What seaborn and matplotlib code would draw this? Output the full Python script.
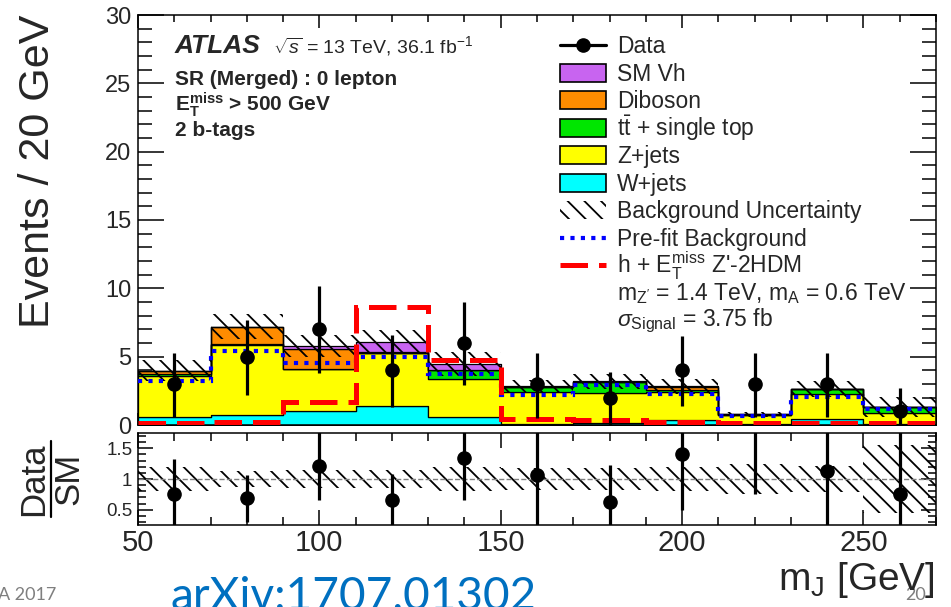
import numpy as np
import pandas as pd
import matplotlib
matplotlib.use("Agg")
import matplotlib.pyplot as plt
import seaborn as sns
from matplotlib.patches import Rectangle
from matplotlib.ticker import MultipleLocator

# ---- binning and yields (events per 20 GeV) ----
bin_edges = np.arange(50, 271, 20)
bin_centers = 0.5 * (bin_edges[:-1] + bin_edges[1:])

data_counts = np.array([3, 5, 7, 4, 6, 3, 2, 4, 3, 3, 1])
data_err_down = np.array([2.4, 2.8, 3.2, 2.7, 3.1, 2.5, 2.0, 2.6, 2.4, 2.4, 1.0])
data_err_up = np.array([2.3, 2.7, 3.2, 2.6, 3.0, 2.3, 1.9, 2.5, 2.3, 2.3, 1.7])

w_jets = np.array([0.62, 0.74, 1.00, 1.40, 0.60, 0.05, 0.12, 0.35, 0.08, 0.45, 0.08])
z_jets = np.array([2.96, 5.14, 3.07, 3.88, 2.79, 2.40, 2.22, 2.10, 0.62, 1.82, 0.82])
ttbar = np.array([0.15, 0.05, 0.05, 0.02, 0.60, 0.32, 0.80, 0.14, 0.05, 0.34, 0.39])
diboson = np.array([0.22, 1.22, 1.44, 0.05, 0.03, 0.03, 0.03, 0.22, 0.02, 0.03, 0.02])
sm_vh = np.array([0.03, 0.05, 0.22, 0.72, 0.43, 0.02, 0.02, 0.02, 0.02, 0.02, 0.02])

bkg_rel_unc = np.array([0.19, 0.13, 0.14, 0.14, 0.20, 0.18, 0.18, 0.20, 0.24, 0.22, 0.55])
prefit_bkg = np.array([3.2, 5.4, 4.55, 4.95, 3.7, 2.2, 2.95, 2.3, 0.65, 2.07, 1.2])
signal = np.array([0.15, 0.25, 1.7, 8.65, 4.75, 0.42, 0.37, 0.24, 0.15, 0.15, 0.12])

process_names = ["SM Vh", "Diboson", "ttbar", "Z+jets", "W+jets"]
process_yields = [sm_vh, diboson, ttbar, z_jets, w_jets]
process_colors = {"SM Vh": "#c864f0", "Diboson": "#ff8c00", "ttbar": "#00e600",
                  "Z+jets": "#ffff00", "W+jets": "#00ffff"}

total_bkg = w_jets + z_jets + ttbar + diboson + sm_vh

# ---- style ----
sns.set_theme(style="ticks")
plt.rcParams["font.family"] = ["Liberation Sans", "DejaVu Sans"]
plt.rcParams["mathtext.fontset"] = "custom"
plt.rcParams["mathtext.rm"] = "Liberation Sans"
plt.rcParams["mathtext.it"] = "Liberation Sans:italic"
plt.rcParams["mathtext.bf"] = "Liberation Sans:bold"
plt.rcParams["hatch.linewidth"] = 1.3
plt.rcParams["axes.linewidth"] = 1.1

W, H = 951, 607
fig = plt.figure(figsize=(W / 100, H / 100), dpi=100)
fig.patch.set_facecolor("white")


def frac_box(x0, y0, x1, y1):
    return [x0 / W, 1 - y1 / H, (x1 - x0) / W, (y1 - y0) / H]


ax = fig.add_axes(frac_box(138, 15, 936, 425))
rax = fig.add_axes(frac_box(138, 433, 936, 525))

# ---- stacked backgrounds ----
long_df = pd.DataFrame({
    "mJ": np.tile(bin_centers, len(process_names)),
    "events": np.concatenate(process_yields),
    "process": np.repeat(process_names, len(bin_centers)),
})
sns.histplot(data=long_df, x="mJ", weights="events", hue="process",
             hue_order=process_names, palette=process_colors,
             bins=len(bin_centers), binrange=(bin_edges[0], bin_edges[-1]),
             multiple="stack", element="step", fill=True, alpha=1.0,
             edgecolor="black", linewidth=0.9, legend=False, ax=ax, zorder=1)

# background uncertainty band
ext = lambda a: np.append(a, a[-1])
ax.fill_between(bin_edges, ext(total_bkg * (1 - bkg_rel_unc)), ext(total_bkg * (1 + bkg_rel_unc)),
                step="post", facecolor="none", edgecolor="black", hatch="\\\\",
                linewidth=0, zorder=3)

# pre-fit background and signal
ax.stairs(prefit_bkg, bin_edges, baseline=None, color="blue", linewidth=3.0,
          linestyle=(0, (1.0, 1.5)), zorder=4)
ax.stairs(signal, bin_edges, baseline=None, color="red", linewidth=3.6,
          linestyle=(0, (5.5, 2.2)), zorder=5)

# data
ax.errorbar(bin_centers, data_counts, yerr=[data_err_down, data_err_up], fmt="o",
            color="black", markersize=9.5, elinewidth=2.3, capsize=0, zorder=6)

ax.set_xlim(50, 270)
ax.set_ylim(0, 30)
ax.set_xlabel("")
ax.set_ylabel("")
ax.xaxis.set_major_locator(MultipleLocator(50))
ax.xaxis.set_minor_locator(MultipleLocator(10))
ax.yaxis.set_major_locator(MultipleLocator(5))
ax.yaxis.set_minor_locator(MultipleLocator(1))
ax.tick_params(which="both", direction="in", top=True, right=True, labelbottom=False, color="black")
ax.tick_params(axis="y", which="major", length=19, width=1.1, labelsize=17, pad=5)
ax.tick_params(axis="y", which="minor", length=10, width=1.1)
ax.tick_params(axis="x", which="major", length=9, width=1.1)
ax.tick_params(axis="x", which="minor", length=5, width=1.1)
for s in ax.spines.values():
    s.set_color("black")

# ---- ratio panel ----
ratio = data_counts / total_bkg
rax.fill_between(bin_edges, ext(1 - bkg_rel_unc), ext(1 + bkg_rel_unc), step="post",
                 facecolor="none", edgecolor="black", hatch="\\\\", linewidth=0, zorder=1)
rax.axhline(1.0, color="gray", linestyle="--", linewidth=1.0, zorder=2)
rax.errorbar(bin_centers, ratio, yerr=[data_err_down / total_bkg, data_err_up / total_bkg],
             fmt="o", color="black", markersize=9.5, elinewidth=2.3, capsize=0, zorder=3)
rax.set_xlim(50, 270)
rax.set_ylim(0.25, 1.75)
rax.xaxis.set_major_locator(MultipleLocator(50))
rax.xaxis.set_minor_locator(MultipleLocator(10))
rax.set_yticks([0.5, 1.0, 1.5])
rax.set_yticklabels(["0.5", "1", "1.5"])
rax.yaxis.set_minor_locator(MultipleLocator(0.1))
rax.tick_params(which="both", direction="in", top=True, right=True, color="black")
rax.tick_params(axis="x", which="major", length=11, width=1.1, labelsize=21, pad=3)
rax.tick_params(axis="x", which="minor", length=6, width=1.1)
rax.tick_params(axis="y", which="major", length=11, width=1.1, labelsize=13.5, pad=4)
rax.tick_params(axis="y", which="minor", length=6, width=1.1)
for s in rax.spines.values():
    s.set_color("black")

# ---- overlay for labels, legend and annotations (pixel coordinates) ----
ov = fig.add_axes([0, 0, 1, 1], zorder=10)
ov.set_xlim(0, W)
ov.set_ylim(H, 0)
ov.axis("off")

ov.text(38, 15, "Events / 20 GeV", rotation=90, ha="center", va="top", fontsize=31)
ov.text(34, 479, "Data", rotation=90, ha="center", va="center", fontsize=25)
ov.text(69, 479, "SM", rotation=90, ha="center", va="center", fontsize=25)
ov.plot([50.5, 50.5], [441, 517], color="black", linewidth=1.6)
ov.text(935, 590, r"m$_\mathregular{J}$ [GeV]", ha="right", va="baseline", fontsize=28)

ov.text(175, 53, "ATLAS", fontsize=19, fontweight="bold", fontstyle="italic", va="baseline")
ov.text(273, 53, r"$\sqrt{s}$ = 13 TeV, 36.1 fb$^{\mathregular{-1}}$", fontsize=14, va="baseline")
ov.text(175, 85, "SR (Merged) : 0 lepton", fontsize=15, fontweight="bold", va="baseline")
ov.text(175, 111, r"$\mathbf{E}_\mathbf{T}^\mathbf{miss}$ > 500 GeV", fontsize=15,
        fontweight="bold", va="baseline")
ov.text(175, 136, "2 b-tags", fontsize=15, fontweight="bold", va="baseline")

# legend
lx0, lx1, tx = 560, 606, 617
fs = 16.5
ov.plot([lx0, lx1], [45, 45], color="black", linewidth=2.3)
ov.plot([583], [45], "o", color="black", markersize=9.5)
ov.text(tx, 45 + 8, "Data", fontsize=fs, va="baseline")
legend_boxes = [("SM Vh", "SM Vh", 73), ("Diboson", "Diboson", 100),
                ("ttbar", r"$\mathregular{t\bar{t}}$ + single top", 128),
                ("Z+jets", "Z+jets", 155), ("W+jets", "W+jets", 183)]
for key, label, yc in legend_boxes:
    ov.add_patch(Rectangle((lx0, yc - 9), lx1 - lx0, 18, facecolor=process_colors[key],
                           edgecolor="black", linewidth=1.2))
    ov.text(tx, yc + 8, label, fontsize=fs, va="baseline")
ov.add_patch(Rectangle((lx0, 201), lx1 - lx0, 18, facecolor="none", edgecolor="black",
                       hatch="\\\\", linewidth=0))
ov.text(tx, 210 + 8, "Background Uncertainty", fontsize=fs, va="baseline")
ov.plot([lx0, lx1], [238, 238], color="blue", linewidth=3.0, linestyle=(0, (1.0, 1.5)))
ov.text(tx, 238 + 8, "Pre-fit Background", fontsize=fs, va="baseline")
ov.plot([lx0, lx1], [265, 265], color="red", linewidth=3.6, linestyle=(0, (5.5, 2.2)))
ov.text(tx, 265 + 8, r"h + E$_\mathregular{T}^\mathregular{miss}$ Z'-2HDM", fontsize=fs, va="baseline")
ov.text(tx, 292 + 8, r"m$_\mathregular{Z'}$ = 1.4 TeV, m$_\mathregular{A}$ = 0.6 TeV",
        fontsize=fs, va="baseline")
ov.text(tx, 320 + 6, r"$\sigma_\mathregular{Signal}$ = 3.75 fb", fontsize=fs, va="baseline")

# slide footer
ov.text(170, 610, "arXiv:1707.01302", fontsize=33, color="#0070c0", family="Lato", va="baseline")
ov.text(-2, 600, "A 2017", fontsize=13, color="#7f7f7f", family="Lato", va="baseline")
ov.text(905, 600, "20", fontsize=13, color="#7f7f7f", family="Lato", va="baseline", zorder=0)

fig.savefig("out.png", dpi=100, facecolor="white")
